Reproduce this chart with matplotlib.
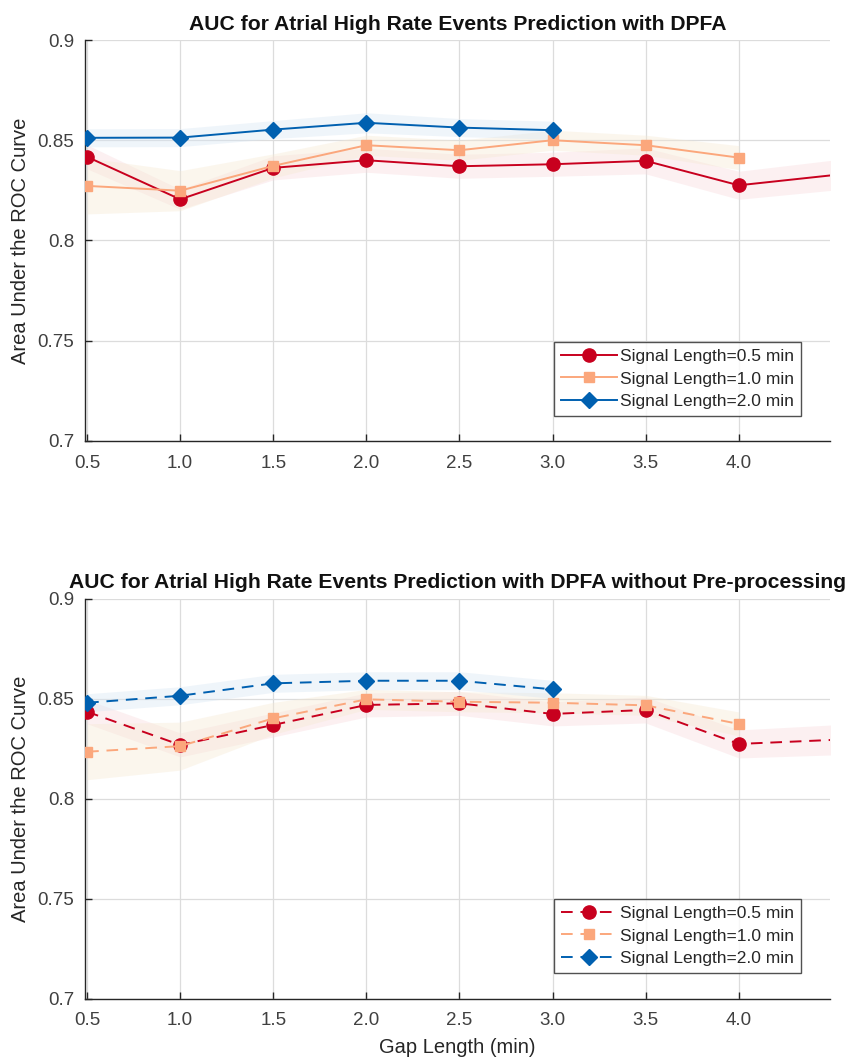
import matplotlib
matplotlib.use("Agg")
import matplotlib.pyplot as plt
import numpy as np

plt.rcParams['font.family'] = ['Liberation Sans', 'DejaVu Sans']

gap = [0.5, 1.0, 1.5, 2.0, 2.5, 3.0, 3.5, 4.0, 4.5]
xticks = [0.5, 1.0, 1.5, 2.0, 2.5, 3.0, 3.5, 4.0]
xticklabels = ["0.5", "1.0", "1.5", "2.0", "2.5", "3.0", "3.5", "4.0"]
yticks = [0.7, 0.75, 0.8, 0.85, 0.9]
yticklabels = ["0.7", "0.75", "0.8", "0.85", "0.9"]
labels = ["Signal Length=0.5 min", "Signal Length=1.0 min", "Signal Length=2.0 min"]

# Top panel (with pre-processing)
top_s05 = [0.8417, 0.8205, 0.8362, 0.8400, 0.8370, 0.8380, 0.8397, 0.8275, 0.8325]
top_s10 = [0.8272, 0.8248, 0.8372, 0.8475, 0.8450, 0.8500, 0.8475, 0.8413]
top_s20 = [0.8512, 0.8513, 0.8553, 0.8587, 0.8563, 0.8550]
top_s05_err = [0.006, 0.005, 0.006, 0.006, 0.006, 0.006, 0.0065, 0.007, 0.0075]
top_s10_err = [0.014, 0.010, 0.006, 0.005, 0.005, 0.005, 0.005, 0.006]
top_s20_err = [0.0045, 0.0045, 0.0045, 0.005, 0.0045, 0.0045]

# Bottom panel (without pre-processing)
bot_s05 = [0.8434, 0.8268, 0.8368, 0.8468, 0.8476, 0.8423, 0.8443, 0.8273, 0.8293]
bot_s10 = [0.8234, 0.8262, 0.8401, 0.8496, 0.8484, 0.8479, 0.8466, 0.8373]
bot_s20 = [0.8479, 0.8514, 0.8576, 0.8589, 0.8589, 0.8546]
bot_s05_err = [0.006, 0.006, 0.006, 0.006, 0.006, 0.006, 0.0065, 0.007, 0.0075]
bot_s10_err = [0.014, 0.012, 0.008, 0.005, 0.005, 0.005, 0.005, 0.006]
bot_s20_err = [0.0045, 0.0045, 0.0045, 0.0045, 0.0045, 0.0045]

c_red = "#C8001E"
c_org = "#FBA77C"
c_blu = "#0060B0"
band_cols = ["#F9D8DC", "#F6E9D2", "#D6E6F4"]

fig = plt.figure(figsize=(8.48, 10.59), dpi=100)
ax1 = fig.add_axes([0.1005, 0.5838, 0.8783, 0.3784])
ax2 = fig.add_axes([0.1005, 0.0571, 0.8783, 0.3777])

def draw(ax, s05, s10, s20, e05, e10, e20, ls, title, leg_y):
    series = [(s05, e05, c_red, 'o', 9.5),
              (s10, e10, c_org, 's', 7.5),
              (s20, e20, c_blu, 'D', 8.5)]
    for (vals, err, col, mk, ms), lab, bc in zip(series, labels, band_cols):
        x = np.array(gap[:len(vals)])
        v = np.array(vals)
        e = np.array(err)
        ax.fill_between(x, v - e, v + e, color=bc, alpha=0.38, lw=0, zorder=1)
        n = len(vals)
        me = list(range(n - 1)) if x[-1] > 4.49 else list(range(n))
        ax.plot(x, v, color=col, lw=1.4, ls=ls, marker=mk, ms=ms,
                mec=col, mfc=col, markevery=me, label=lab, zorder=3)
    ax.set_xlim(0.49, 4.49)
    ax.set_ylim(0.7, 0.9)
    ax.set_xticks(xticks)
    ax.set_xticklabels(xticklabels)
    ax.set_yticks(yticks)
    ax.set_yticklabels(yticklabels)
    ax.grid(True, color="#DCDCDC", lw=0.9, zorder=0)
    ax.set_axisbelow(True)
    for sp in ['top', 'right']:
        ax.spines[sp].set_visible(False)
    for sp in ['left', 'bottom']:
        ax.spines[sp].set_color("#262626")
        ax.spines[sp].set_linewidth(1.0)
    ax.tick_params(direction='in', length=5, width=1.0, color="#262626",
                   labelsize=13.5, labelcolor="#404040")
    ax.tick_params(axis='x', pad=10)
    ax.tick_params(axis='y', pad=8)
    ax.set_ylabel("Area Under the ROC Curve", fontsize=14.5, color="#262626", labelpad=5)
    ax.set_title(title, fontsize=15.2, fontweight='bold', color="#111111", pad=7.5)
    leg = ax.legend(loc='lower left', bbox_to_anchor=(0.63, leg_y),
                    fontsize=12.5, frameon=True, fancybox=False, edgecolor="#262626",
                    handlelength=3.2, handletextpad=0.2, borderpad=0.4,
                    labelspacing=0.42, borderaxespad=0)
    leg.get_frame().set_linewidth(1.0)
    for t in leg.get_texts():
        t.set_color("#262626")

draw(ax1, top_s05, top_s10, top_s20, top_s05_err, top_s10_err, top_s20_err, '-',
     "AUC for Atrial High Rate Events Prediction with DPFA", 0.062)
draw(ax2, bot_s05, bot_s10, bot_s20, bot_s05_err, bot_s10_err, bot_s20_err, (0, (6, 4)),
     "AUC for Atrial High Rate Events Prediction with DPFA without Pre-processing", 0.064)
ax2.set_xlabel("Gap Length (min)", fontsize=14.5, color="#262626", labelpad=6)

fig.savefig("out.png", dpi=100)
